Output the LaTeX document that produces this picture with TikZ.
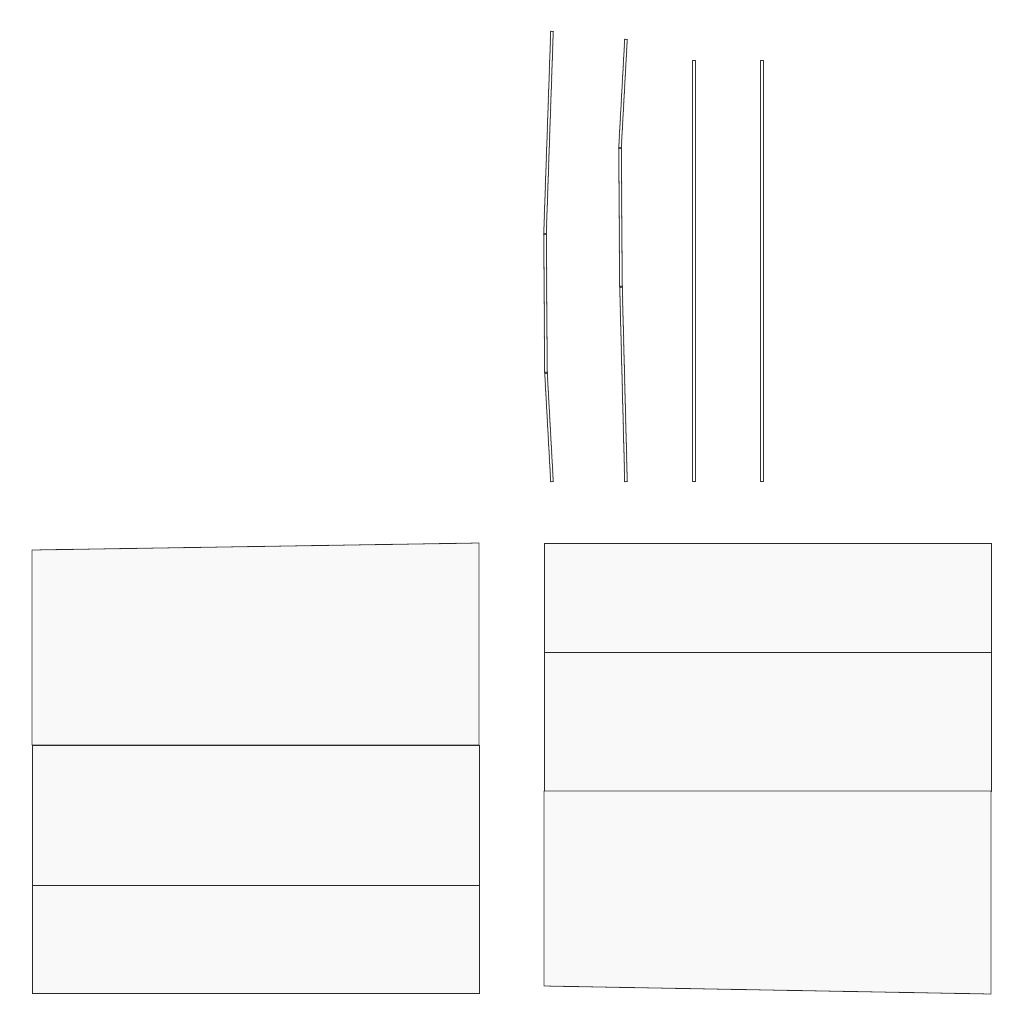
\documentclass[tikz,border=0pt]{standalone}

\newcommand{\pxscl}{0.01}
\newcommand{\px}[1]{#1*\pxscl}
\newcommand{\py}[1]{-#1*\pxscl}
\newcommand{\rod}{\draw[line width=1.0pt, draw=black!80, postaction={draw=white, line width=0.42pt, shorten >=0.28pt, shorten <=0.28pt}]}
\newcommand{\slab}{\draw[line width=0.22pt, draw=black!85, fill=black!2.5]}

\begin{document}
\begin{tikzpicture}
            \useasboundingbox (0,0) rectangle (\px{1024}, \py{1024});

            % bent rods
            \coordinate (a1) at (\px{552}, \py{31});
            \coordinate (a2) at (\px{545}, \py{234});
            \coordinate (a3) at (\px{546}, \py{373});
            \coordinate (a4) at (\px{552}, \py{482});
            \coordinate (b1) at (\px{626}, \py{39});
            \coordinate (b2) at (\px{620}, \py{148});
            \coordinate (b3) at (\px{621}, \py{287});
            \coordinate (b4) at (\px{626}, \py{482});
            % straight rods
            \coordinate (c1) at (\px{694}, \py{60});
            \coordinate (c2) at (\px{694}, \py{482});
            \coordinate (d1) at (\px{762}, \py{60});
            \coordinate (d2) at (\px{762}, \py{482});

            \rod (a1) -- (a2);
            \rod (a2) -- (a3);
            \rod (a3) -- (a4);
            \rod (b1) -- (b2);
            \rod (b2) -- (b3);
            \rod (b3) -- (b4);
            \rod (c1) -- (c2);
            \rod (d1) -- (d2);

            % left panel
            \slab (\px{32}, \py{550}) -- (\px{479}, \py{543}) -- (\px{479}, \py{745}) -- (\px{32}, \py{745}) -- cycle;
            \slab (\px{32}, \py{745}) rectangle (\px{479}, \py{885});
            \slab (\px{32}, \py{885}) rectangle (\px{479}, \py{993});

            % right panel
            \slab (\px{544}, \py{543}) rectangle (\px{991}, \py{652});
            \slab (\px{544}, \py{652}) rectangle (\px{991}, \py{791});
            \slab (\px{544}, \py{791}) -- (\px{991}, \py{791}) -- (\px{991}, \py{994}) -- (\px{544}, \py{986}) -- cycle;
        \end{tikzpicture}
\end{document}
